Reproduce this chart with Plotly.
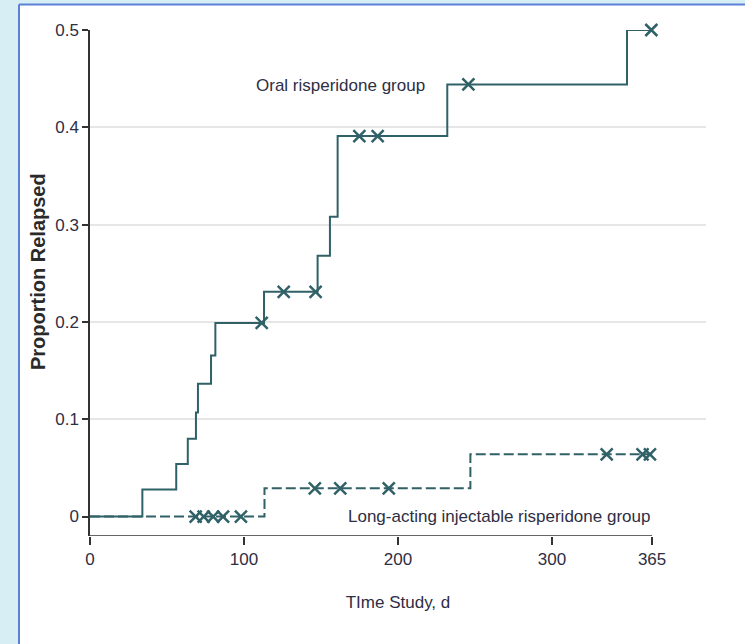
import plotly.graph_objects as go

# ---------------- data ----------------
oral_event_days = [34, 56, 63.5, 68.8, 70.1, 78.6, 81.4, 113, 147.8, 155.8, 160.8, 232, 348.7]
oral_levels = [0.0277, 0.054, 0.080, 0.107, 0.1365, 0.1656, 0.199, 0.231, 0.268, 0.308, 0.391, 0.444, 0.500]
oral_censor_days = [111.5, 125.8, 146.5, 174.9, 186.8, 245.7, 364.5]
oral_censor_levels = [0.199, 0.231, 0.231, 0.391, 0.391, 0.444, 0.500]

lai_event_days = [113.3, 247]
lai_levels = [0.029, 0.064]
lai_censor_days = [68.6, 73.8, 80, 86.4, 98, 146, 162.5, 194, 335.5, 358.8, 363.6]
lai_censor_levels = [0, 0, 0, 0, 0, 0.029, 0.029, 0.029, 0.064, 0.064, 0.064]

study_end = 365
x_tick_vals = [0, 100, 200, 300, 365]
x_tick_text = ["0", "100", "200", "300", "365"]
y_tick_vals = [0, 0.1, 0.2, 0.3, 0.4, 0.5]
y_tick_text = ["0", "0.1", "0.2", "0.3", "0.4", "0.5"]

# ---------------- styling ----------------
W, H = 745, 644
L, R, T, B = 90, 39, 30, 108
PW, PH = W - L - R, H - T - B
LINE = "#2f6167"
AX = "#333333"
TXT = "#2e2e44"
FONT = "Liberation Sans, Arial, sans-serif"


def px_x(px):
    return (px - L) / PW


def px_y(py):
    return (H - B - py) / PH


def km_xy(days, levels):
    xs = [0] + list(days) + [study_end]
    ys = [0] + list(levels) + [levels[-1]]
    return xs, ys


fig = go.Figure()

ox, oy = km_xy(oral_event_days, oral_levels)
fig.add_trace(go.Scatter(x=ox, y=oy, mode="lines", line=dict(color=LINE, width=2, shape="hv"),
                         showlegend=False, hoverinfo="skip", cliponaxis=False))
lx, ly = km_xy(lai_event_days, lai_levels)
fig.add_trace(go.Scatter(x=lx, y=ly, mode="lines",
                         line=dict(color=LINE, width=2, shape="hv", dash="10px,4px"),
                         showlegend=False, hoverinfo="skip", cliponaxis=False))

for cx, cy in [(oral_censor_days, oral_censor_levels), (lai_censor_days, lai_censor_levels)]:
    fig.add_trace(go.Scatter(x=cx, y=cy, mode="markers",
                             marker=dict(symbol="x-thin", size=12, line=dict(color=LINE, width=2.5)),
                             showlegend=False, hoverinfo="skip", cliponaxis=False))

fig.add_annotation(x=219, y=0.443, text="Oral risperidone group", showarrow=False,
                   xanchor="right", yanchor="middle", font=dict(family=FONT, size=17, color=TXT))
fig.add_annotation(x=365, y=0.0, text="Long-acting injectable risperidone group", showarrow=False,
                   xanchor="right", yanchor="middle", font=dict(family=FONT, size=17, color=TXT))
# y-axis title placed to match the reference position
fig.add_annotation(xref="paper", yref="paper", x=px_x(38), y=px_y(272), text="<b>Proportion Relapsed</b>",
                   textangle=-90, showarrow=False, xanchor="center", yanchor="middle",
                   font=dict(family=FONT, size=20, color="#2a2a2a"))

shapes = [
    # white panel with blue left and top borders
    dict(type="rect", xref="paper", yref="paper", x0=px_x(19), x1=px_x(W + 5), y0=px_y(H + 5), y1=px_y(4.5),
         fillcolor="white", line=dict(width=0), layer="below"),
    dict(type="line", xref="paper", yref="paper", x0=px_x(19), x1=px_x(19), y0=px_y(H + 5), y1=px_y(4.5),
         line=dict(color="#5b80d6", width=2), layer="below"),
    dict(type="line", xref="paper", yref="paper", x0=px_x(19), x1=px_x(W + 5), y0=px_y(4.5), y1=px_y(4.5),
         line=dict(color="#5b80d6", width=2), layer="below"),
    # x-axis line up to study end
    dict(type="line", xref="x", yref="y", x0=0, x1=study_end, y0=-0.02, y1=-0.02,
         line=dict(color=AX, width=1.5)),
]

fig.update_layout(
    width=W, height=H,
    margin=dict(l=L, r=R, t=T, b=B),
    paper_bgcolor="#d6eef4",
    plot_bgcolor="rgba(0,0,0,0)",
    shapes=shapes,
    xaxis=dict(range=[0, 400], tickvals=x_tick_vals, ticktext=x_tick_text, showgrid=False,
               zeroline=False, showline=False, ticks="outside", ticklen=8, tickwidth=1.5,
               tickcolor=AX, tickfont=dict(family=FONT, size=17, color=TXT),
               title=dict(text="TIme Study, d", font=dict(family=FONT, size=17, color=TXT), standoff=27)),
    yaxis=dict(range=[-0.02, 0.5], tickvals=y_tick_vals, ticktext=y_tick_text, showgrid=True,
               gridcolor="#e6e6e6", gridwidth=2, zeroline=True, zerolinecolor="white", zerolinewidth=3,
               showline=True, linecolor=AX, linewidth=1.5, ticks="outside", ticklen=6, tickwidth=1.5,
               tickcolor=AX, tickfont=dict(family=FONT, size=17, color=TXT)),
)

fig.write_html("out.html", config={"displayModeBar": False},
               post_script="document.body.style.margin='0';")
